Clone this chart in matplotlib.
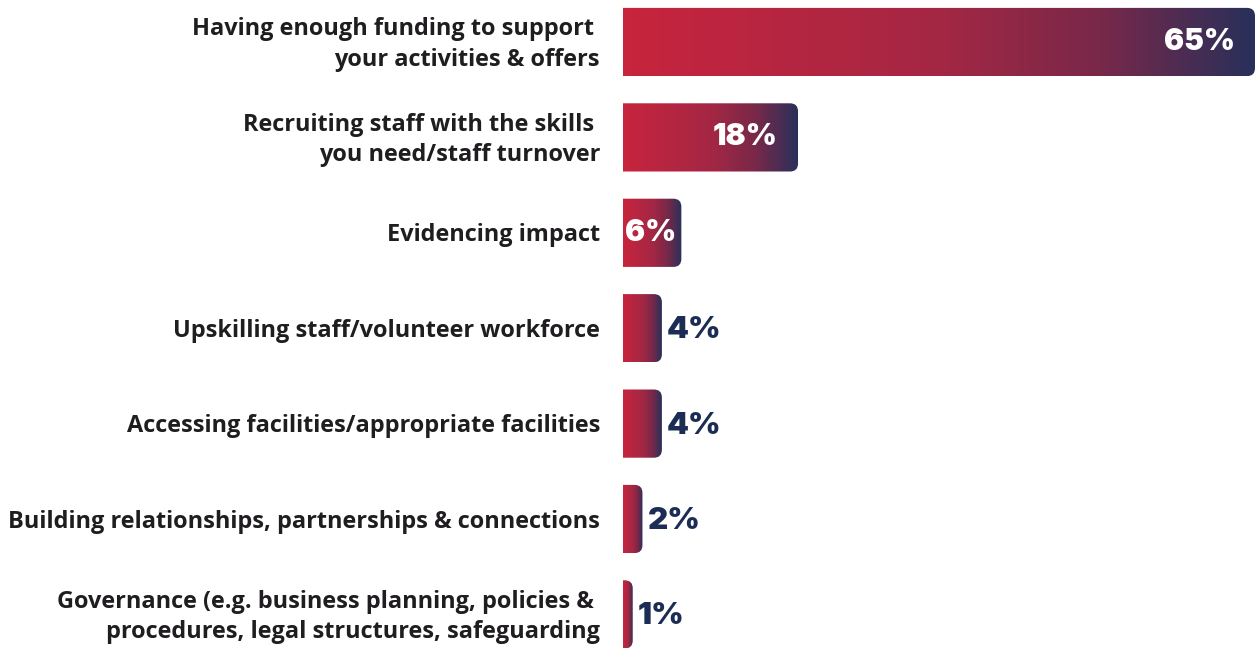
import numpy as np
import matplotlib.pyplot as plt
from matplotlib.path import Path
from matplotlib.patches import PathPatch
from matplotlib.colors import LinearSegmentedColormap

# Challenges reported, share of respondents (%)
labels = [
    "Having enough funding to support \nyour activities & offers",
    "Recruiting staff with the skills \nyou need/staff turnover",
    "Evidencing impact",
    "Upskilling staff/volunteer workforce",
    "Accessing facilities/appropriate facilities",
    "Building relationships, partnerships & connections",
    "Governance (e.g. business planning, policies & \nprocedures, legal structures, safeguarding",
]
values = [65, 18, 6, 4, 4, 2, 1]
value_labels = ["65%", "18%", "6%", "4%", "4%", "2%", "1%"]

RED = "#c8243d"
NAVY = "#28305a"
TEXT = "#1f1d1f"
VALUE_NAVY = "#1b2c55"

cmap = LinearSegmentedColormap.from_list(
    "bar_grad",
    [(0.0, RED), (0.5, "#a42744"), (0.75, "#7a2849"), (1.0, NAVY)],
)

W, H, DPI = 1255, 648, 100
fig = plt.figure(figsize=(W / DPI, H / DPI), dpi=DPI)
fig.patch.set_facecolor("white")

# axes span from the bar baseline to the right edge
x_left = 623
ax = fig.add_axes([x_left / W, 0, 1 - x_left / W, 1])
ax.set_axis_off()

xmax = max(values)
step_px = 95.4
first_center = 42
ylim = ((H - first_center) / step_px, -first_center / step_px)
px_per_x = (W - x_left) / xmax
px_per_y = step_px
bar_h = 0.715
radius_px = 8


def rounded_right(x1, yc, h):
    # rectangle with rounded corners on the right end only
    y0, y1 = yc - h / 2, yc + h / 2
    rx = min(radius_px / px_per_x, x1)
    ry = radius_px / px_per_y
    verts = [
        (0, y0), (x1 - rx, y0), (x1, y0), (x1, y0 + ry),
        (x1, y1 - ry), (x1, y1), (x1 - rx, y1), (0, y1), (0, y0),
    ]
    codes = [
        Path.MOVETO, Path.LINETO, Path.CURVE3, Path.CURVE3,
        Path.LINETO, Path.CURVE3, Path.CURVE3, Path.LINETO, Path.CLOSEPOLY,
    ]
    return Path(verts, codes)


grad = np.linspace(0, 1, 256).reshape(1, -1)
for i, (lab, v, vl) in enumerate(zip(labels, values, value_labels)):
    patch = PathPatch(rounded_right(v, i, bar_h), facecolor="none", edgecolor="none")
    ax.add_patch(patch)
    im = ax.imshow(grad, cmap=cmap, aspect="auto",
                   extent=(0, v, i + bar_h / 2, i - bar_h / 2),
                   interpolation="bicubic")
    im.set_clip_path(patch)

    # category label, right aligned left of the bars
    ax.annotate(lab, xy=(0, i), xytext=(-23, -2.5), textcoords="offset pixels",
                ha="right", va="center", multialignment="right",
                fontsize=16.9, fontweight="bold", family="Open Sans",
                color=TEXT, linespacing=1.35, annotation_clip=False)

    # value label: inside the bar when it fits, otherwise just after it
    if v >= 5:
        pad = 20 if v >= 10 else 5
        ax.annotate(vl, xy=(v, i), xytext=(-pad, 0), textcoords="offset pixels",
                    ha="right", va="center", fontsize=21.5, fontweight="black",
                    family="Inter", color="white", annotation_clip=False)
    else:
        ax.annotate(vl, xy=(v, i), xytext=(5, -2), textcoords="offset pixels",
                    ha="left", va="center", fontsize=22.5, fontweight="black",
                    family="Inter", color=VALUE_NAVY, annotation_clip=False)

ax.set_xlim(0, xmax)
ax.set_ylim(*ylim)

fig.savefig("out.png", dpi=DPI, facecolor="white")
